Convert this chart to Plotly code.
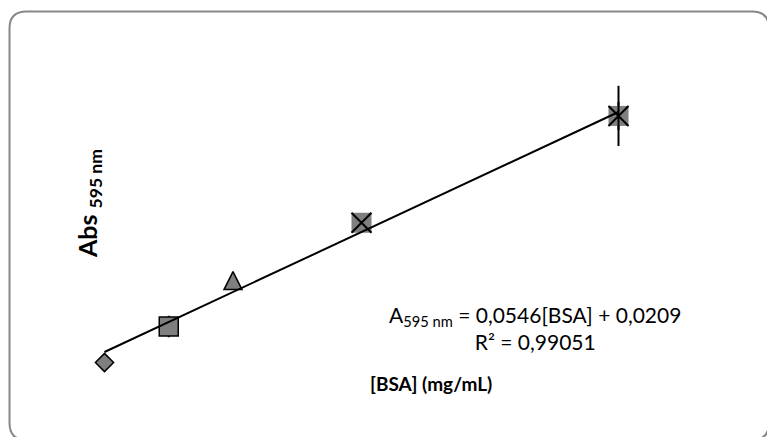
import plotly.graph_objects as go

# Bradford standard curve: BSA concentration vs absorbance at 595 nm
bsa = [0, 2.5, 5, 10, 20]
absorb = [-0.027, 0.137, 0.346, 0.609, 1.095]
abs_err = [0.02, 0.049, 0.03, 0.03, 0.137]

slope = 0.0546
intercept = 0.0209
r_squared = "0,99051"

W, H = 767, 437
GREY = "#7f7f7f"

fig = go.Figure()

# diamond (blank)
fig.add_trace(go.Scatter(
    x=bsa[0:1], y=absorb[0:1], mode="markers",
    error_y=dict(type="data", array=abs_err[0:1], color="black", thickness=2, width=0),
    marker=dict(symbol="diamond", size=14, color=GREY, line=dict(color="black", width=1.5)),
))
# square
fig.add_trace(go.Scatter(
    x=bsa[1:2], y=absorb[1:2], mode="markers",
    error_y=dict(type="data", array=abs_err[1:2], color="black", thickness=2, width=0),
    marker=dict(symbol="square", size=19, color=GREY, line=dict(color="black", width=1.5)),
))
# triangle (arrow glyph flipped and re-centred so it is as tall as it is wide)
fig.add_trace(go.Scatter(
    x=bsa[2:3], y=absorb[2:3], mode="markers",
    error_y=dict(type="data", array=abs_err[2:3], color="black", thickness=2, width=0),
    marker=dict(symbol="arrow-down", angle=180, standoff=9, size=18, color=GREY,
                line=dict(color="black", width=1.5)),
))
# grey boxes behind the cross / star markers, error bars underneath
fig.add_trace(go.Scatter(
    x=bsa[3:5], y=absorb[3:5], mode="markers",
    error_y=dict(type="data", array=abs_err[3:5], color="black", thickness=2, width=0),
    marker=dict(symbol="square", size=20, color=GREY, line=dict(color=GREY, width=0)),
))
# crosses
fig.add_trace(go.Scatter(
    x=bsa[3:5], y=absorb[3:5], mode="markers",
    marker=dict(symbol="x-thin", size=20, color="black", line=dict(color="black", width=2)),
))
# vertical stroke completing the star marker
fig.add_trace(go.Scatter(
    x=bsa[4:5], y=absorb[4:5], mode="markers",
    marker=dict(symbol="line-ns", size=20, color="black", line=dict(color="black", width=2)),
))

# linear trendline from the fitted equation
x_fit = [min(bsa), max(bsa)]
y_fit = [slope * v + intercept for v in x_fit]
fig.add_trace(go.Scatter(
    x=x_fit, y=y_fit, mode="lines", line=dict(color="black", width=2),
))


def P(px, py):
    return f"{px / W:.5f},{1 - py / H:.5f}"


# rounded chart frame
L, T, R, B, r = 9.5, 11.5, 769, 440, 17
frame = (
    f"M{P(L + r, T)} L{P(R - r, T)} Q{P(R, T)} {P(R, T + r)} "
    f"L{P(R, B - r)} Q{P(R, B)} {P(R - r, B)} "
    f"L{P(L + r, B)} Q{P(L, B)} {P(L, B - r)} "
    f"L{P(L, T + r)} Q{P(L, T)} {P(L + r, T)} Z"
)
fig.add_shape(type="path", xref="paper", yref="paper", path=frame,
              line=dict(color="#878787", width=2), fillcolor="rgba(0,0,0,0)")

eq_text = (
    f"A<sub>595 nm</sub> = {str(slope).replace('.', ',')}[BSA] + "
    f"{str(intercept).replace('.', ',')}<br>R² = {r_squared}"
)
fig.add_annotation(
    xref="paper", yref="paper", x=535 / W, y=1 - 328 / H,
    xanchor="center", yanchor="middle", align="center", showarrow=False,
    text=eq_text, font=dict(family="Lato", size=21, color="black"),
)
fig.add_annotation(
    xref="paper", yref="paper", x=431 / W, y=1 - 383 / H,
    xanchor="center", yanchor="middle", showarrow=False,
    text="<b>[BSA] (mg/mL)</b>", font=dict(family="Lato", size=19, color="black"),
)
fig.add_annotation(
    xref="paper", yref="paper", x=89 / W, y=1 - 204 / H,
    xanchor="center", yanchor="middle", showarrow=False, textangle=-90,
    text="<b>Abs <sub>595 nm</sub></b>", font=dict(family="Lato", size=25, color="black"),
)

fig.update_layout(
    width=W, height=H, margin=dict(l=0, r=0, t=0, b=0),
    paper_bgcolor="white", plot_bgcolor="white", showlegend=False,
    xaxis=dict(visible=False, range=[-4.0661, 25.7783], domain=[0, 1]),
    yaxis=dict(visible=False, range=[-0.36585, 1.6225], domain=[0, 1]),
)

fig.write_html("out.html")
